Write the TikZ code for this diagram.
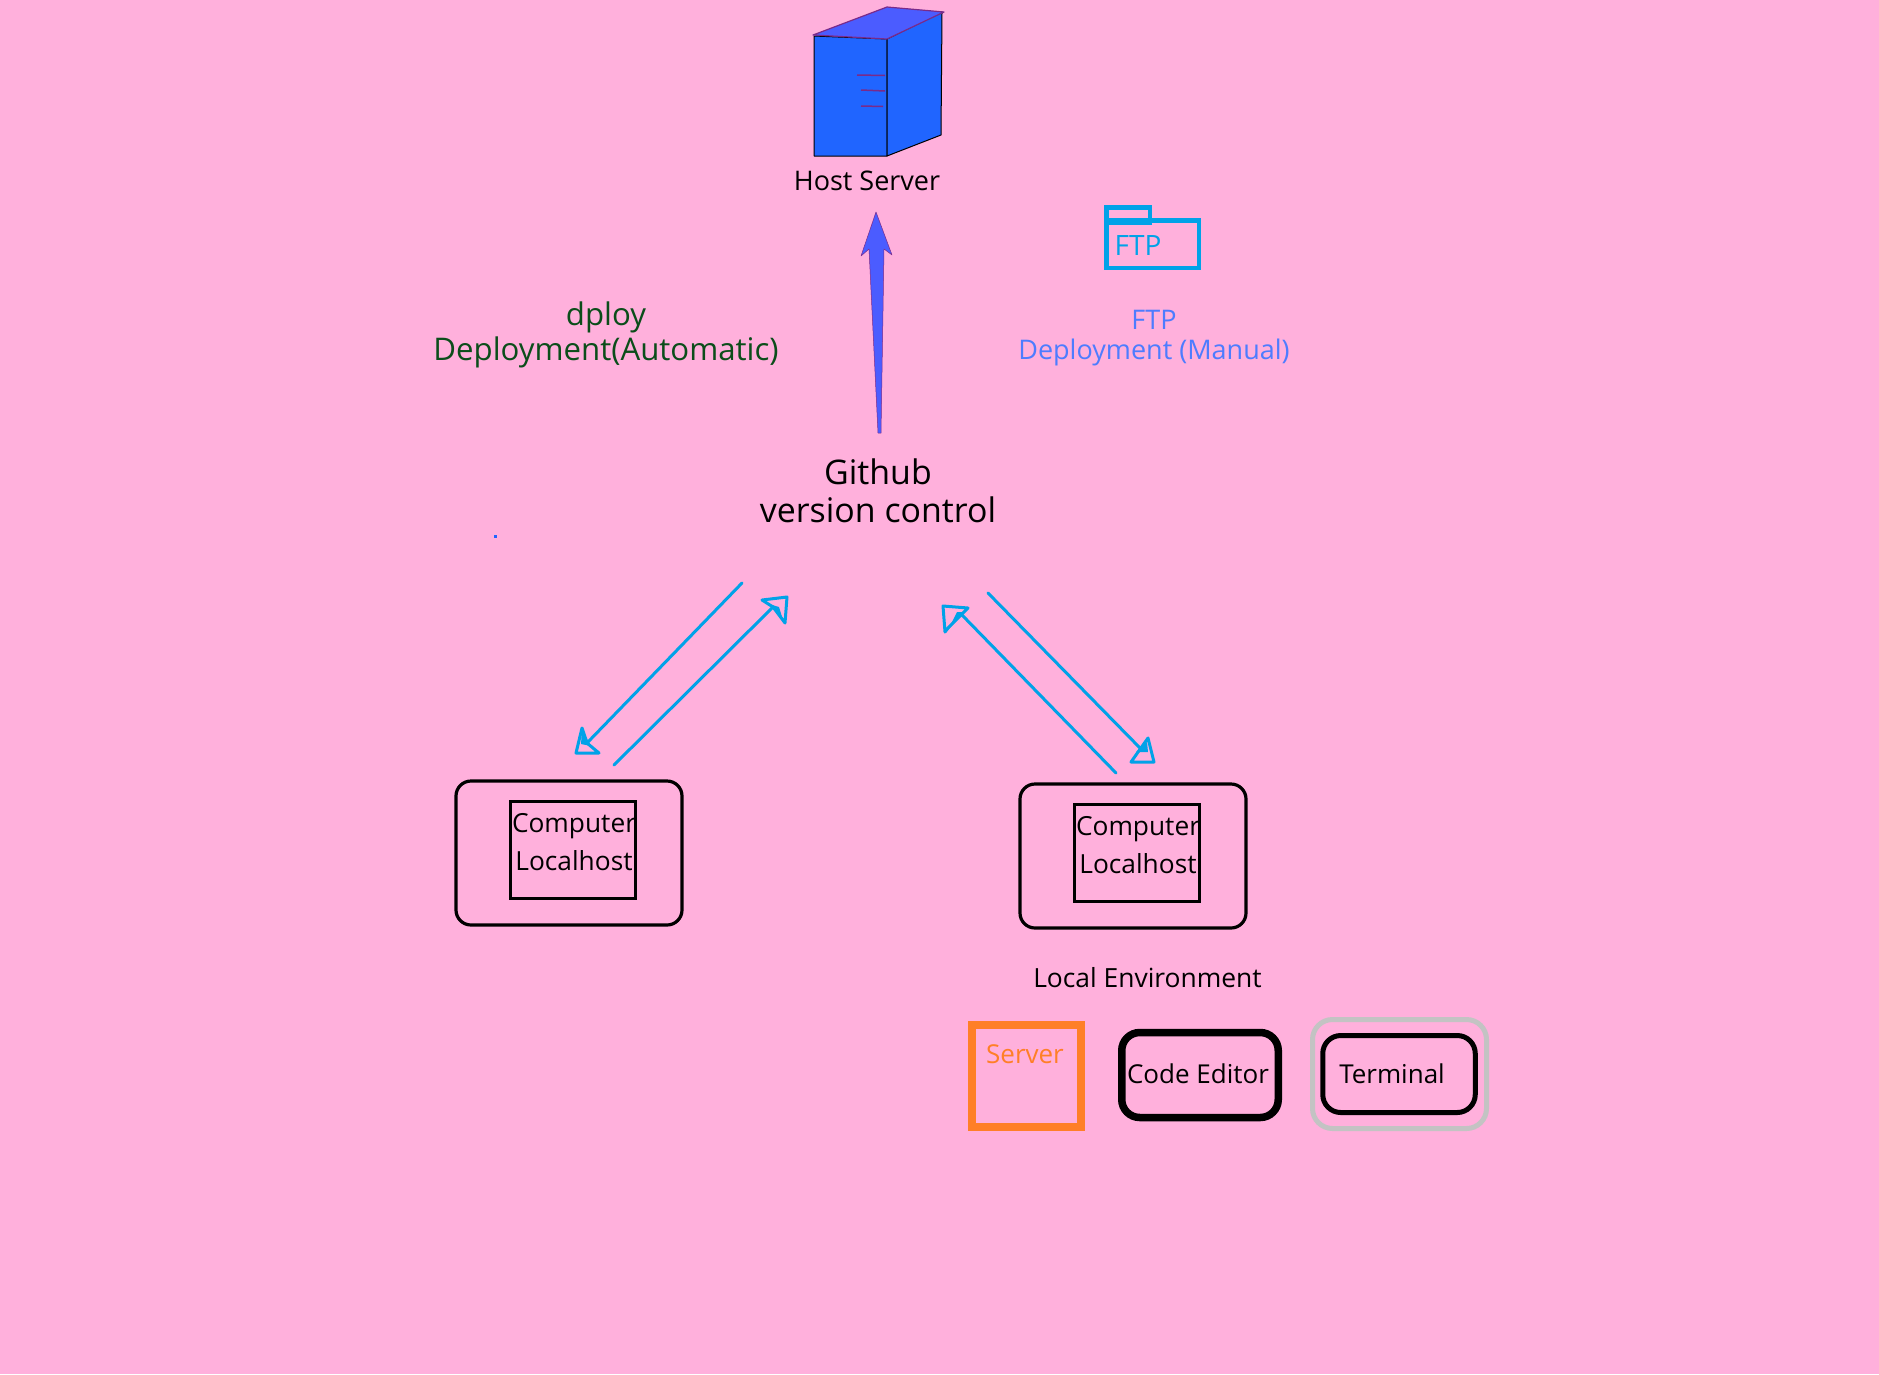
\documentclass[tikz,border=0pt]{standalone}
\usepackage{fontspec}
\setmainfont{Open Sans}
\definecolor{bgpink}{HTML}{FFB0DC}
\definecolor{cyanline}{HTML}{00A2E8}
\definecolor{srvblue}{HTML}{2065FF}
\definecolor{srvtop}{HTML}{4B5CFF}
\definecolor{srvedge}{HTML}{7A2A8A}
\definecolor{orangebox}{HTML}{FF7F27}
\definecolor{greybox}{HTML}{C3C3C3}
\definecolor{ftpblue}{HTML}{4D7CFF}
\definecolor{dgreen}{HTML}{0B4D1A}
\newcommand{\fs}[2]{\fontsize{#1}{#2}\selectfont}
\tikzset{
  label/.style={inner sep=0pt,outer sep=0pt,anchor=center,align=center},
  frame/.style={draw=black,line width=3.2pt,inner sep=0pt,outer sep=0pt,rounded corners=15pt},
  inbox/.style={draw=black,line width=3.2pt,inner sep=0pt,outer sep=0pt,minimum width=125pt,minimum height=97pt},
  sync/.style={draw=cyanline,line width=3pt,line cap=round},
  head/.style={draw=cyanline,line width=3pt,line join=round},
  wedge/.style={fill=cyanline},
  facet/.style={draw=black,line width=1pt,line join=round},
  slot/.style={draw=srvedge,line width=1.5pt},
}
\begin{document}
\begin{tikzpicture}[x=1pt,y=-1pt]
\useasboundingbox (0,0) rectangle (1879,1374);
\fill[bgpink] (0,0) rectangle (1879,1374);

% server
\draw[facet,fill=srvblue] (814,36) -- (887,39) -- (887,156) -- (814,156) -- cycle;
\draw[facet,fill=srvblue] (887,39) -- (942,12) -- (941,135) -- (887,156) -- cycle;
\draw[draw=srvedge,line width=1.2pt,fill=srvtop,line join=round] (813,35) -- (887,7) -- (944,12) -- (887,39) -- cycle;
\draw[slot] (857,75) -- (885,75.5);
\draw[slot] (861,90) -- (885,91);
\draw[slot] (861,106) -- (883,106.5);
\node[label,font=\fs{27}{32}] (host) at (867,180.5) {Host Server};

% deploy arrow
\node[label,font=\fs{33.9}{38}] (github) at (878,491) {Github\\version control};
\fill[srvtop,draw=srvedge,line width=.5pt,line join=round] (876,212) -- (892,255) -- (884,249) -- (881,433) -- (878,433) -- (869,249) -- (861,256) -- cycle;

% ftp
\node[draw=cyanline,line width=4.5pt,inner sep=0pt,outer sep=0pt,minimum width=92.5pt,minimum height=47.5pt] (ftpbody) at (1152.5,244) {};
\node[draw=cyanline,line width=4.5pt,inner sep=0pt,outer sep=0pt,minimum width=43.5pt,minimum height=15.5pt] (ftptab) at (1128,215) {};
\node[label,font=\fs{28}{32},text=cyanline] (ftpname) at (1138,245) {FTP};
\node[label,font=\fs{27}{30},text=ftpblue] (ftplabel) at (1154,338.5) {FTP\\Deployment (Manual)};
\node[label,font=\fs{31.2}{35},text=dgreen] (dploy) at (606,334.5) {dploy\\Deployment(Automatic)};
\fill[srvblue] (493.5,535) rectangle (496.5,537.5);

% left computer
\node[frame,minimum width=226pt,minimum height=144pt] (leftouter) at (569,853) {};
\node[inbox] (leftinner) at (573,850) {};
\node[label,font=\fs{26.3}{30}] (leftcomp) at (574,826) {Computer};
\node[label,font=\fs{26.3}{30}] (lefthost) at (574,861) {Localhost};

% right computer
\node[frame,minimum width=226pt,minimum height=144pt] (rightouter) at (1133,856) {};
\node[inbox] (rightinner) at (1137,853) {};
\node[label,font=\fs{26.3}{30}] (rightcomp) at (1138,829) {Computer};
\node[label,font=\fs{26.3}{30}] (righthost) at (1138,864) {Localhost};

% connectors
\coordinate (a1s) at (742,583); \coordinate (a1e) at (587,743);
\coordinate (a2s) at (614,765); \coordinate (a2e) at (773,607);
\coordinate (a3s) at (988,593); \coordinate (a3e) at (1140,748);
\coordinate (a4s) at (1116,773); \coordinate (a4e) at (962,615);
\draw[sync] (a1s) -- (a1e);
\draw[sync] (a2s) -- (a2e);
\draw[sync] (a3s) -- (a3e);
\draw[sync] (a4s) -- (a4e);
\draw[head] (582,728) -- (576,753) -- (599,753) -- (587,743) -- cycle;
\fill[wedge] (582,730) -- (581,744) -- (591,746) -- cycle;
\draw[head] (762,600) -- (787,597) -- (785,623) -- (773,607) -- cycle;
\fill[wedge] (769,604) -- (783,620) -- (779,607) -- cycle;
\draw[head] (1148,738) -- (1131,762) -- (1154,762) -- cycle;
\fill[wedge] (1136,752) -- (1147,742) -- (1148,752) -- cycle;
\draw[head] (943,606) -- (968,608) -- (948,628) -- (945,632) -- cycle;
\fill[wedge] (948,630) -- (964,612) -- (957,612) -- cycle;

% local environment
\node[label,font=\fs{26.4}{30}] (localenv) at (1147.5,978) {Local Environment};
\node[draw=orangebox,line width=8pt,inner sep=0pt,outer sep=0pt,minimum width=109pt,minimum height=102pt] (serverbox) at (1026.5,1076) {};
\node[label,font=\fs{26}{30},text=orangebox] (servertxt) at (1025,1054) {Server};
\node[draw=black,line width=7.5pt,inner sep=0pt,outer sep=0pt,rounded corners=18pt,minimum width=156.5pt,minimum height=85pt] (codebox) at (1200,1075) {};
\node[label,font=\fs{26}{30}] (codetxt) at (1198,1073.5) {Code Editor};
\node[draw=greybox,line width=5pt,inner sep=0pt,outer sep=0pt,rounded corners=20pt,minimum width=174pt,minimum height=109pt] (termouter) at (1399.5,1074) {};
\node[draw=black,line width=5pt,inner sep=0pt,outer sep=0pt,rounded corners=18pt,minimum width=152.5pt,minimum height=77pt] (terminner) at (1399,1074) {};
\node[label,font=\fs{26}{30}] (termtxt) at (1392,1073.5) {Terminal};
\end{tikzpicture}
\end{document}
